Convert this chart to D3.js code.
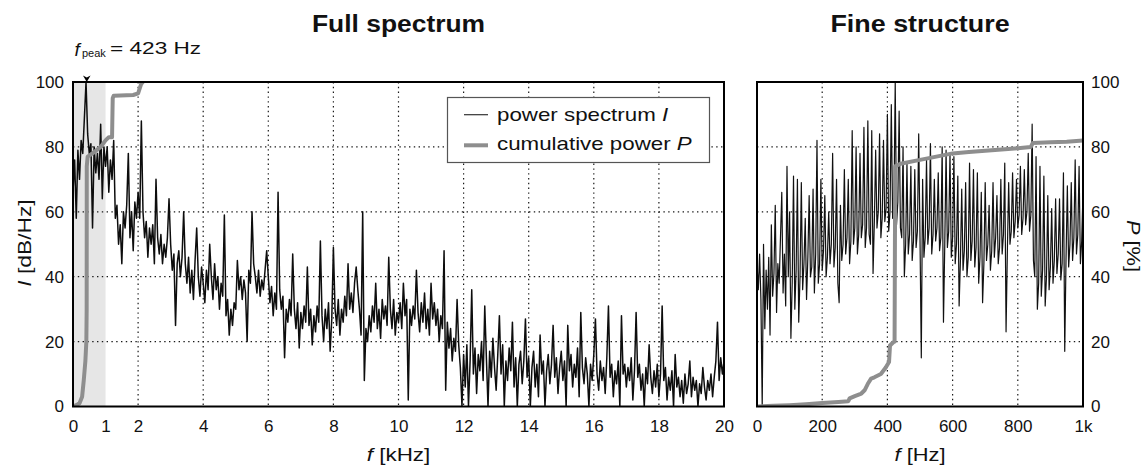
<!DOCTYPE html>
<html><head><meta charset="utf-8">
<script src="https://cdn.jsdelivr.net/npm/d3@7"></script>
<style>
body{margin:0;background:#fff}
svg{display:block}
text{font-family:"Liberation Sans",Arial,sans-serif;fill:#111}
</style>
</head><body>
<svg id="c" width="1148" height="467"></svg>
<script>
// ---------------- data ----------------
const fullStepKHz = 0.05; // sample spacing of the full spectrum (kHz)
const spectrumFull = [
66,76,58,79,70,82,78,89,100,84,78,81,55,80,72,78,70,87,64,80,
74,80,66,76,70,82,58,62,50,56,44,60,55,62,78,52,60,48,63,58,
66,58,88,60,52,57,46,55,50,56,44,70,52,47,53,44,50,46,52,64,
50,42,47,25,44,48,40,46,60,44,38,46,35,42,33,45,55,40,34,43,
38,32,42,36,50,40,33,44,36,40,30,38,34,59,28,33,22,30,25,32,
30,45,36,40,33,39,35,20,42,38,60,44,40,35,42,34,39,36,42,48,
40,32,37,28,35,30,66,36,30,34,15,30,26,33,28,47,30,24,32,18,
29,24,31,26,43,25,30,19,28,23,31,26,51,28,20,30,24,32,17,27,
49,30,25,33,22,30,26,34,28,44,30,35,29,38,43,36,30,22,60,8,
24,20,28,23,31,26,38,24,30,21,33,27,31,25,46,30,24,33,22,29,
26,32,24,38,28,33,2,30,25,31,27,42,29,23,32,26,35,24,30,22,
38,27,32,25,30,20,28,24,48,5,26,18,24,14,21,17,33,19,12,0,
16,6,19,0,14,36,10,18,4,16,11,20,8,31,15,0,17,9,21,12,
5,16,28,10,19,0,14,8,18,11,26,6,15,0,13,17,7,14,27,9,
15,0,12,17,6,13,3,22,10,14,0,11,16,7,13,25,9,15,4,12,
17,8,14,0,25,11,16,6,13,9,18,3,29,12,7,15,10,0,13,8,
16,27,10,5,14,8,12,4,15,31,9,13,3,11,7,14,0,28,10,13,
6,12,8,15,2,11,29,9,13,5,10,0,12,7,19,9,4,11,6,13,
3,10,31,8,12,2,9,5,11,0,16,6,9,3,8,1,10,4,7,14,
3,9,5,8,0,7,4,12,6,2,8,5,10,3,9,14,26,8,15,10,14
];

const fineStepHz = 4; // sample spacing of the fine-structure spectrum (Hz)
const spectrumFine = [
44,36,47,33,0,50,24,42,30,46,22,56,34,41,62,29,44,38,52,66,35,47,31,74,40,
60,21,38, 71,30,42, 70,26,40, 69,36,44, 58,33,46, 65,40,43, 67,35,47, 82,38,44, 70,42,48, 65,40,46,
60,44,50, 78,43,49, 70,38,32, 62,45,50, 73,47,52, 70,44,51, 85,50,55, 80,47,53, 78,52,56, 86,49,55,
88,53,50, 85,41,57, 79,55,60, 84,52,58, 82,57,61, 90,54,60, 93,58,62, 100,56,63, 91,55,52, 80,40,50,
75,47,53, 74,45,51, 73,49,54, 84,52,15, 70,46,52, 76,50,55, 81,47,53, 70,51,55, 72,48,52, 80,26,50,
79,49,54, 78,46,52, 77,44,50, 71,31,45, 67,42,48, 69,40,46, 75,45,51, 73,43,49, 72,38,46, 66,32,44,
69,45,50, 62,42,48, 69,46,52, 65,44,49, 70,47,53, 75,23,48, 69,50,54, 72,52,57, 70,55,59, 74,53,58,
73,56,60, 78,54,59, 87,45,40, 77,30,38, 74,34,42, 71,31,40, 65,36,43, 61,38,45, 64,41,47, 64,39,44,
72,17,46, 68,43,50, 69,45,52, 76,47,53, 74,44,51,
66
];

const cumFullKHz = [0,0.1,0.2,0.28,0.33,0.38,0.41,0.42,0.423,0.45,0.6,0.85,1.0,1.1,1.2,1.22,1.25,1.85,2.0,2.05,2.1,2.16];
const cumFullPct = [0,0.4,1,3,8,14,20,30,74,77,78,80,82,83,83,95,95.8,96,96.5,98,99.6,100];

const cumFineHz  = [0,50,100,150,200,250,280,284,300,320,330,340,350,360,380,395,405,408,418,422,424,440,500,550,600,650,700,750,800,840,846,900,950,1000];
const cumFinePct = [0,0.2,0.4,0.7,1.1,1.4,1.6,2.5,3.2,4,5,7,8.6,9,10,12,13.7,18.8,19.8,20,74,74.8,76,77,78,78.4,78.8,79.2,79.6,80,81.2,81.4,81.6,82];

const fullTicks = [0,1,2,4,6,8,10,12,14,16,18,20];
const fullGrid  = [2,4,6,8,10,12,14,16,18];
const fineTicks = [0,200,400,600,800,1000];
const fineTickLabels = ["0","200","400","600","800","1k"];
const fineGrid  = [200,400,600,800];
const yTicks = [0,20,40,60,80,100];
const yGrid  = [20,40,60,80];
const peakKHz = 0.423;
const shadeKHz = [0,1];

// ---------------- layout ----------------
const svg = d3.select('#c');
const L = {x0:73, x1:724, y0:82, y1:406.5};
const R = {x0:757, x1:1083, y0:82, y1:406.5};
const xL = d3.scaleLinear().domain([0,20]).range([L.x0,L.x1]);
const xR = d3.scaleLinear().domain([0,1000]).range([R.x0,R.x1]);
const yL = d3.scaleLinear().domain([0,100]).range([L.y1,L.y0]);
const yR = d3.scaleLinear().domain([0,100]).range([R.y1,R.y0]);

const defs = svg.append('defs');
defs.append('clipPath').attr('id','clipL').append('rect')
  .attr('x',L.x0).attr('y',L.y0).attr('width',L.x1-L.x0).attr('height',L.y1-L.y0);
defs.append('clipPath').attr('id','clipR').append('rect')
  .attr('x',R.x0).attr('y',R.y0).attr('width',R.x1-R.x0).attr('height',R.y1-R.y0);

function txt(parent, x, y, parts, o) {
  o = Object.assign({size:17, anchor:'start', sx:1, rot:0, weight:'normal'}, o||{});
  const t = parent.append('text')
    .attr('transform', `translate(${x},${y}) rotate(${o.rot}) scale(${o.sx},1)`)
    .attr('font-size', o.size).attr('text-anchor', o.anchor).attr('font-weight', o.weight);
  parts.forEach(p => {
    const s = t.append('tspan').text(p[0]);
    if (p[1]) s.attr('font-style','italic');
  });
  return t;
}

const gridStyle = s => s.attr('stroke','#1a1a1a').attr('stroke-width',1.2).attr('stroke-dasharray','1.4,3.4');

// ---------------- left panel ----------------
const gL = svg.append('g');
gL.append('rect').attr('x',xL(shadeKHz[0])).attr('y',L.y0)
  .attr('width',xL(shadeKHz[1])-xL(shadeKHz[0])).attr('height',L.y1-L.y0).attr('fill','#e6e6e6');
gL.selectAll('.vg').data(fullGrid).join('line').attr('class','vg')
  .attr('x1',d=>xL(d)).attr('x2',d=>xL(d)).attr('y1',L.y0).attr('y2',L.y1).call(gridStyle);
gL.selectAll('.hg').data(yGrid).join('line').attr('class','hg')
  .attr('x1',L.x0).attr('x2',L.x1).attr('y1',d=>yL(d)).attr('y2',d=>yL(d)).call(gridStyle);

const lineFull = d3.line().x((d,i)=>xL(i*fullStepKHz)).y(d=>yL(d));
gL.append('path').datum(spectrumFull).attr('clip-path','url(#clipL)')
  .attr('d',lineFull).attr('fill','none').attr('stroke','#0d0d0d').attr('stroke-width',1.5).attr('stroke-linejoin','round');
const cumLineL = d3.line().x((d,i)=>xL(cumFullKHz[i])).y(d=>yL(d));
gL.append('path').datum(cumFullPct).attr('clip-path','url(#clipL)')
  .attr('d',cumLineL).attr('fill','none').attr('stroke','#8e8e8e').attr('stroke-width',4).attr('stroke-linejoin','round');
gL.append('rect').attr('x',L.x0).attr('y',L.y0).attr('width',L.x1-L.x0).attr('height',L.y1-L.y0)
  .attr('fill','none').attr('stroke','#000').attr('stroke-width',2);

// axes (labels only)
const axB = gL.append('g').attr('transform',`translate(0,${L.y1})`)
  .call(d3.axisBottom(xL).tickValues(fullTicks).tickSize(0).tickPadding(13.5).tickFormat(d3.format('d')));
const axLf = gL.append('g').attr('transform',`translate(${L.x0},0)`)
  .call(d3.axisLeft(yL).tickValues(yTicks).tickSize(0).tickPadding(9));
[axB,axLf].forEach(a=>{a.select('.domain').remove(); a.attr('font-family',null).attr('font-size',17);});

// legend
const lg = svg.append('g');
lg.append('rect').attr('x',447.5).attr('y',97.5).attr('width',262).attr('height',65)
  .attr('fill','#fff').attr('stroke','#555').attr('stroke-width',1.2);
lg.append('line').attr('x1',464).attr('x2',488).attr('y1',114.7).attr('y2',114.7).attr('stroke','#333').attr('stroke-width',1.2);
lg.append('line').attr('x1',464).attr('x2',488).attr('y1',145.3).attr('y2',145.3).attr('stroke','#8e8e8e').attr('stroke-width',4);
txt(lg, 497, 120.5, [['power spectrum '],['I',true]], {size:19, sx:1.175});
txt(lg, 497, 149.8, [['cumulative power '],['P',true]], {size:19, sx:1.175});

// peak annotation
const px = xL(peakKHz);
svg.append('path').attr('d',`M${px-3.8},75.5L${px},82L${px+3.8},75.5L${px},77.5Z`).attr('fill','#000');
txt(svg, 74.5, 56, [['f',true]], {size:19});
txt(svg, 82, 57, [['peak']], {size:11});
txt(svg, 110, 54.4, [['= 423 Hz']], {size:17, sx:1.33});

// titles / axis labels
txt(svg, (L.x0+L.x1)/2, 32.3, [['Full spectrum']], {size:24, anchor:'middle', weight:'bold', sx:1.1});
txt(svg, (R.x0+R.x1)/2, 32.3, [['Fine structure']], {size:24, anchor:'middle', weight:'bold', sx:1.12});
txt(svg, (L.x0+L.x1)/2, 461.3, [['f',true],[' [kHz]']], {size:19, anchor:'middle', sx:1.18});
txt(svg, (R.x0+R.x1)/2, 461.3, [['f',true],[' [Hz]']], {size:19, anchor:'middle', sx:1.15});
txt(svg, 31, 243, [['I',true],[' [dB/Hz]']], {size:19, anchor:'middle', rot:-90, sx:1.2});
txt(svg, 1127, 246, [['P',true],[' [%]']], {size:19, anchor:'middle', rot:90, sx:1.15});

// ---------------- right panel ----------------
const gR = svg.append('g');
gR.selectAll('.vg').data(fineGrid).join('line').attr('class','vg')
  .attr('x1',d=>xR(d)).attr('x2',d=>xR(d)).attr('y1',R.y0).attr('y2',R.y1).call(gridStyle);
gR.selectAll('.hg').data(yGrid).join('line').attr('class','hg')
  .attr('x1',R.x0).attr('x2',R.x1).attr('y1',d=>yR(d)).attr('y2',d=>yR(d)).call(gridStyle);
const lineFine = d3.line().x((d,i)=>xR(i*fineStepHz)).y(d=>yR(d));
gR.append('path').datum(spectrumFine).attr('clip-path','url(#clipR)')
  .attr('d',lineFine).attr('fill','none').attr('stroke','#111').attr('stroke-width',1.2).attr('stroke-linejoin','round');
const cumLineR = d3.line().x((d,i)=>xR(cumFineHz[i])).y(d=>yR(d));
gR.append('path').datum(cumFinePct).attr('clip-path','url(#clipR)')
  .attr('d',cumLineR).attr('fill','none').attr('stroke','#8e8e8e').attr('stroke-width',4).attr('stroke-linejoin','round');
gR.append('rect').attr('x',R.x0).attr('y',R.y0).attr('width',R.x1-R.x0).attr('height',R.y1-R.y0)
  .attr('fill','none').attr('stroke','#000').attr('stroke-width',2);
const axBR = gR.append('g').attr('transform',`translate(0,${R.y1})`)
  .call(d3.axisBottom(xR).tickValues(fineTicks).tickSize(0).tickPadding(13.5).tickFormat((d,i)=>fineTickLabels[i]));
const axRR = gR.append('g').attr('transform',`translate(${R.x1},0)`)
  .call(d3.axisRight(yR).tickValues(yTicks).tickSize(0).tickPadding(8));
[axBR,axRR].forEach(a=>{a.select('.domain').remove(); a.attr('font-family',null).attr('font-size',17);});
</script>
</body></html>
